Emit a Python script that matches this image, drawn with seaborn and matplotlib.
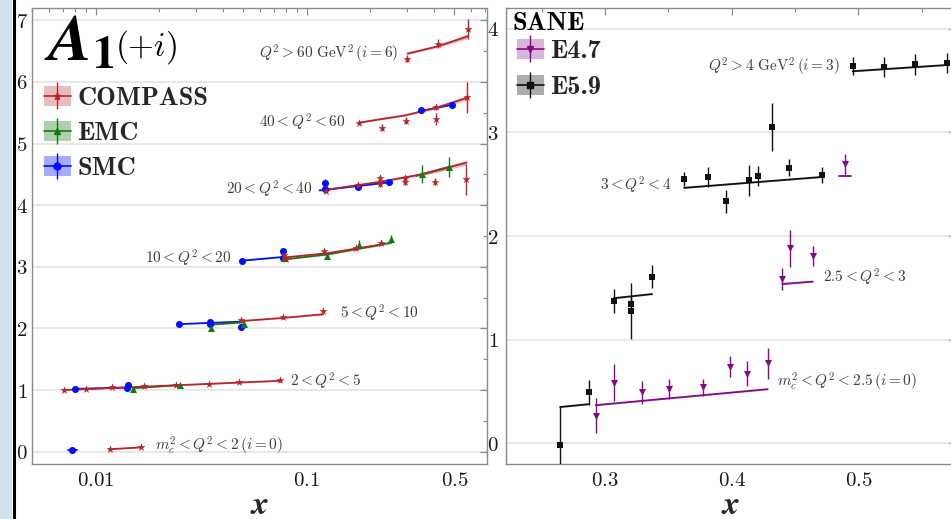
import os
import numpy as np
import pandas as pd
import matplotlib
matplotlib.use("Agg")
import matplotlib.pyplot as plt
from matplotlib.font_manager import FontProperties
from matplotlib.patches import Patch, Rectangle
from matplotlib.lines import Line2D
from matplotlib.ticker import (FixedLocator, LogLocator, MultipleLocator,
                               NullFormatter, FuncFormatter)
import seaborn as sns

# ---------------------------------------------------------------------------
# A1 measurements: x, A1 value, bin offset i (plotted as A1 + i), uncertainty
# ---------------------------------------------------------------------------
compass_x = [0.01165, 0.01647,
             0.00705, 0.00897, 0.0120, 0.0169, 0.0241, 0.0344, 0.0478, 0.0745,
             0.0488, 0.0772, 0.1195,
             0.0783, 0.0795, 0.1205, 0.172, 0.224,
             0.124, 0.174, 0.222, 0.222, 0.2915, 0.2915, 0.407, 0.567,
             0.177, 0.226, 0.294, 0.409, 0.409, 0.571,
             0.300, 0.419, 0.578]
compass_a1 = [0.04, 0.076,
              0.005, 0.016, 0.05, 0.07, 0.086, 0.10, 0.13, 0.156,
              0.13, 0.18, 0.29,
              0.19, 0.13, 0.25, 0.30, 0.39,
              0.235, 0.32, 0.436, 0.34, 0.446, 0.38, 0.38, 0.42,
              0.34, 0.26, 0.37, 0.40, 0.59, 0.75,
              0.38, 0.62, 0.86]
compass_bin = [0, 0, 1, 1, 1, 1, 1, 1, 1, 1, 2, 2, 2, 3, 3, 3, 3, 3,
               4, 4, 4, 4, 4, 4, 4, 4, 5, 5, 5, 5, 5, 5, 6, 6, 6]
compass_err = [0.02, 0.02,
               0.02, 0.02, 0.02, 0.02, 0.02, 0.02, 0.02, 0.02,
               0.02, 0.02, 0.03,
               0.03, 0.03, 0.03, 0.03, 0.04,
               0.03, 0.05, 0.05, 0.05, 0.05, 0.05, 0.06, 0.25,
               0.03, 0.06, 0.06, 0.10, 0.05, 0.25,
               0.06, 0.07, 0.16]

smc_x = [0.00776, 0.0080, 0.0141, 0.0143, 0.0248, 0.0347, 0.0347, 0.0488,
         0.0494, 0.0772, 0.0772, 0.1217, 0.1217, 0.174, 0.245, 0.346, 0.487]
smc_a1 = [0.03, 0.02, 0.03, 0.08, 0.07, 0.11, 0.07, 0.03,
          0.095, 0.25, 0.15, 0.355, 0.26, 0.30, 0.37, 0.54, 0.62]
smc_bin = [0, 1, 1, 1, 2, 2, 2, 2, 3, 3, 3, 4, 4, 4, 4, 5, 5]
smc_err = [0.01, 0.01, 0.01, 0.01, 0.01, 0.01, 0.01, 0.01,
           0.01, 0.04, 0.01, 0.07, 0.02, 0.02, 0.02, 0.04, 0.04]

emc_x = [0.01503, 0.025, 0.0351, 0.0503, 0.0781, 0.1254, 0.176, 0.250, 0.35, 0.472]
emc_a1 = [0.016, 0.09, 0.01, 0.07, 0.14, 0.17, 0.36, 0.45, 0.505, 0.62]
emc_bin = [1, 1, 2, 2, 3, 3, 3, 3, 4, 4]
emc_err = [0.02, 0.02, 0.02, 0.03, 0.02, 0.03, 0.07, 0.07, 0.15, 0.17]

sane59_x = [0.2645, 0.2874,
            0.3069, 0.3208, 0.3208, 0.3371,
            0.3624, 0.381, 0.3955, 0.4139, 0.4208, 0.4316, 0.4455, 0.4715,
            0.4955, 0.520, 0.5447, 0.5697]
sane59_a1 = [-0.02, 0.49,
             0.373, 0.34, 0.276, 0.607,
             0.548, 0.57, 0.336, 0.539, 0.58, 1.05, 0.66, 0.59,
             0.64, 0.63, 0.656, 0.67]
sane59_bin = [0, 0, 1, 1, 1, 1, 2, 2, 2, 2, 2, 2, 2, 2, 3, 3, 3, 3]
sane59_err = [0.37, 0.12,
              0.12, 0.08, 0.27, 0.11,
              0.07, 0.10, 0.11, 0.15, 0.10, 0.23, 0.08, 0.08,
              0.09, 0.10, 0.10, 0.10]

sane47_x = [0.2927, 0.3069, 0.329, 0.3507, 0.3776, 0.3987, 0.4123, 0.4284,
            0.44, 0.446, 0.4639, 0.4894]
sane47_a1 = [0.265, 0.586, 0.49, 0.525, 0.54, 0.74, 0.67, 0.77,
             0.585, 0.88, 0.806, 0.69]
sane47_bin = [0, 0, 0, 0, 0, 0, 0, 0, 1, 1, 1, 2]
sane47_err = [0.17, 0.18, 0.11, 0.10, 0.08, 0.10, 0.12, 0.15,
              0.11, 0.18, 0.10, 0.10]

# fitted curves per bin with their uncertainty bands
compass_fit_x = [0.01165, 0.01647, 0.00705, 0.025, 0.0745, 0.0488, 0.077, 0.1195,
                 0.0772, 0.125, 0.224, 0.124, 0.222, 0.35, 0.571,
                 0.177, 0.294, 0.409, 0.571, 0.300, 0.419, 0.578]
compass_fit_a1 = [0.04, 0.07, 0.0, 0.08, 0.15, 0.12, 0.17, 0.23,
                  0.15, 0.22, 0.36, 0.25, 0.38, 0.50, 0.69,
                  0.34, 0.46, 0.58, 0.74, 0.46, 0.58, 0.74]
compass_fit_bin = [0, 0, 1, 1, 1, 2, 2, 2, 3, 3, 3, 4, 4, 4, 4, 5, 5, 5, 5, 6, 6, 6]
compass_fit_band = [0.004, 0.004, 0.004, 0.005, 0.008, 0.005, 0.006, 0.01,
                    0.006, 0.008, 0.015, 0.008, 0.012, 0.02, 0.04,
                    0.01, 0.015, 0.02, 0.04, 0.015, 0.02, 0.04]

smc_fit_x = [0.0074, 0.0082, 0.0080, 0.0141, 0.0248, 0.0488,
             0.0494, 0.0772, 0.115, 0.245, 0.346, 0.487]
smc_fit_a1 = [0.03, 0.03, 0.02, 0.04, 0.07, 0.11, 0.10, 0.16, 0.24, 0.37, 0.53, 0.63]
smc_fit_bin = [0, 0, 1, 1, 2, 2, 3, 3, 4, 4, 5, 5]
smc_fit_band = [0.006] * 12

emc_fit_x = [0.01503, 0.025, 0.0351, 0.0503, 0.0781, 0.125, 0.25, 0.33, 0.472]
emc_fit_a1 = [0.03, 0.08, 0.06, 0.10, 0.12, 0.20, 0.39, 0.48, 0.62]
emc_fit_bin = [1, 1, 2, 2, 3, 3, 3, 4, 4]
emc_fit_band = [0.005, 0.006, 0.006, 0.008, 0.008, 0.01, 0.02, 0.02, 0.03]

sane59_fit_x = [0.2645, 0.2874, 0.3069, 0.3371, 0.3624, 0.4715, 0.4955, 0.5697]
sane59_fit_a1 = [0.35, 0.378, 0.40, 0.44, 0.465, 0.57, 0.59, 0.65]
sane59_fit_bin = [0, 0, 1, 1, 2, 2, 3, 3]
sane59_fit_band = [0.006] * 8

sane47_fit_x = [0.2927, 0.4284, 0.44, 0.4639, 0.485, 0.494]
sane47_fit_a1 = [0.368, 0.522, 0.537, 0.56, 0.577, 0.577]
sane47_fit_bin = [0, 0, 1, 1, 2, 2]
sane47_fit_band = [0.006] * 6

C_COMPASS = "#b8242a"
C_EMC = "#137a13"
C_SMC = "#0010ff"
C_E47 = "#860a86"
C_E59 = "#111111"
TXT = "#3c3c3c"

sns.set_theme(style="white")
plt.rcParams.update({
    "mathtext.fontset": "cm",
    "font.family": ["DejaVu Serif"],
    "axes.unicode_minus": False,
})

# Computer Modern bold, shipped with matplotlib
CMB = FontProperties(fname=os.path.join(matplotlib.get_data_path(),
                                        "fonts", "ttf", "cmb10.ttf"), size=19)


def draw_fit(ax, x, a1, b, band, color, alpha):
    df = pd.DataFrame({"x": x, "y": np.add(a1, b), "bin": b, "band": band})
    sns.lineplot(data=df, x="x", y="y", units="bin", estimator=None, sort=False,
                 color=color, lw=1.3, ax=ax, legend=False, zorder=3)
    for _, g in df.groupby("bin"):
        ax.fill_between(g["x"], g["y"] - g["band"], g["y"] + g["band"],
                        color=color, alpha=alpha, lw=0, zorder=2)


def draw_points(ax, x, a1, b, err, color, marker, size):
    df = pd.DataFrame({"x": x, "y": np.add(a1, b), "err": err})
    ax.errorbar(df["x"], df["y"], yerr=df["err"], fmt="none", ecolor=color,
                elinewidth=1.0, capsize=0, zorder=4)
    sns.scatterplot(data=df, x="x", y="y", marker=marker, s=size, color=color,
                    linewidth=0, ax=ax, legend=False, zorder=5)


def legend_handle(ax, color, marker, alpha):
    patch = Patch(facecolor=color, alpha=alpha, edgecolor="none")
    eb = ax.errorbar([np.nan], [np.nan], yerr=[1.0], fmt="-", marker=marker,
                     color=color, ms=5, lw=1.2, elinewidth=1.0)
    return (patch, eb)


def style_axes(ax):
    for s in ax.spines.values():
        s.set_color("#8a8a8a")
        s.set_linewidth(1.0)
    ax.tick_params(which="both", direction="in", top=True, right=True,
                   color="#8a8a8a", labelcolor="#1a1a1a", labelsize=15)
    ax.tick_params(which="major", length=5, width=0.9, pad=5)
    ax.tick_params(which="minor", length=3, width=0.8)
    ax.tick_params(axis="y", which="major", pad=3)
    ax.yaxis.grid(True, which="major", color="#e6e6e6", lw=1.3)
    ax.xaxis.grid(False)
    ax.set_axisbelow(True)
    ax.yaxis.set_major_locator(MultipleLocator(1))
    ax.yaxis.set_minor_locator(MultipleLocator(0.5))
    ax.yaxis.set_major_formatter(FuncFormatter(lambda v, p: f"${v:g}$"))
    ax.set_ylabel("")


fig = plt.figure(figsize=(9.51, 5.19), dpi=100)
fig.patch.set_facecolor("white")
fig.add_artist(Rectangle((0, 0), 12 / 951, 1, transform=fig.transFigure,
                         facecolor="#d2e1eb", edgecolor="none", zorder=0))
fig.add_artist(Line2D([13.6 / 951] * 2, [0, 1], transform=fig.transFigure,
                      color="black", lw=2.2))

ax1 = fig.add_axes([32 / 951, 55 / 519, 454.5 / 951, 456 / 519])
ax2 = fig.add_axes([505.7 / 951, 55 / 519, 450.3 / 951, 456 / 519])

# ---------------- left panel: COMPASS / EMC / SMC ----------------
ax1.set_xscale("log")
draw_fit(ax1, smc_fit_x, smc_fit_a1, smc_fit_bin, smc_fit_band, C_SMC, 0.3)
draw_fit(ax1, emc_fit_x, emc_fit_a1, emc_fit_bin, emc_fit_band, C_EMC, 0.3)
draw_fit(ax1, compass_fit_x, compass_fit_a1, compass_fit_bin, compass_fit_band, C_COMPASS, 0.3)
draw_points(ax1, smc_x, smc_a1, smc_bin, smc_err, C_SMC, "o", 26)
draw_points(ax1, emc_x, emc_a1, emc_bin, emc_err, C_EMC, "^", 26)
draw_points(ax1, compass_x, compass_a1, compass_bin, compass_err, C_COMPASS, "*", 38)

ax1.set_xlim(0.005, 0.71)
ax1.set_ylim(-0.2, 7.2)
style_axes(ax1)
ax1.xaxis.set_major_locator(FixedLocator([0.01, 0.1, 0.5]))
ax1.xaxis.set_major_formatter(FuncFormatter(lambda v, p: f"${v:g}$"))
ax1.xaxis.set_minor_locator(LogLocator(base=10, subs=np.arange(2, 10)))
ax1.xaxis.set_minor_formatter(NullFormatter())
ax1.set_xlabel(r"$\mathbfit{x}$", fontsize=24, math_fontfamily="stix", labelpad=-1)

lab = dict(fontsize=11, color=TXT, va="center")
ax1.text(0.2708, 6.46, r"$Q^2 > 60\ \mathrm{GeV}^2\,(i=6)$", ha="right", **lab)
ax1.text(0.153, 5.35, r"$40 < Q^2 < 60$", ha="right", **lab)
ax1.text(0.1071, 4.25, r"$20 < Q^2 < 40$", ha="right", **lab)
ax1.text(0.0440, 3.14, r"$10 < Q^2 < 20$", ha="right", **lab)
ax1.text(0.1445, 2.25, r"$5 < Q^2 < 10$", ha="left", **lab)
ax1.text(0.0830, 1.14, r"$2 < Q^2 < 5$", ha="left", **lab)
ax1.text(0.01904, 0.086, r"$m_c^2 < Q^2 < 2\,(i=0)$", ha="left", **lab)

fig.text(44 / 951, 1 - 60 / 519, r"$\mathbfit{A}_{\mathbf{1}}$", fontsize=47,
         math_fontfamily="stix", va="baseline", ha="left", color="black")
fig.text(115 / 951, 1 - 56 / 519, r"$(+i)$", fontsize=24, va="baseline",
         ha="left", color="black")

h_left = [legend_handle(ax1, C_COMPASS, "*", 0.3),
          legend_handle(ax1, C_EMC, "^", 0.35),
          legend_handle(ax1, C_SMC, "o", 0.35)]
ax1.legend(h_left, ["COMPASS", "EMC", "SMC"], prop=CMB,
           loc="upper left", bbox_to_anchor=(44 / 951, 1 - 86 / 519),
           bbox_transform=fig.transFigure, frameon=False,
           handlelength=1.02, handleheight=0.78, handletextpad=0.25,
           labelspacing=0.42, borderpad=0, borderaxespad=0, numpoints=1)

# ---------------- right panel: SANE ----------------
draw_fit(ax2, sane59_fit_x, sane59_fit_a1, sane59_fit_bin, sane59_fit_band, C_E59, 0.3)
draw_fit(ax2, sane47_fit_x, sane47_fit_a1, sane47_fit_bin, sane47_fit_band, C_E47, 0.3)
draw_points(ax2, sane59_x, sane59_a1, sane59_bin, sane59_err, C_E59, "s", 18)
draw_points(ax2, sane47_x, sane47_a1, sane47_bin, sane47_err, C_E47, "v", 26)

ax2.set_xlim(0.2216, 0.577)
ax2.set_ylim(-0.2, 4.2)
style_axes(ax2)
ax2.xaxis.set_major_locator(FixedLocator([0.3, 0.4, 0.5]))
ax2.xaxis.set_major_formatter(FuncFormatter(lambda v, p: f"${v:g}$"))
ax2.xaxis.set_minor_locator(MultipleLocator(0.05))
ax2.tick_params(axis="y", which="major", pad=5)
ax2.set_xlabel(r"$\mathbfit{x}$", fontsize=24, math_fontfamily="stix", labelpad=-1)

ax2.text(0.4855, 3.63, r"$Q^2 > 4\ \mathrm{GeV}^2\,(i=3)$", ha="right", **lab)
ax2.text(0.3526, 2.49, r"$3 < Q^2 < 4$", ha="right", **lab)
ax2.text(0.4718, 1.60, r"$2.5 < Q^2 < 3$", ha="left", **lab)
ax2.text(0.4355, 0.59, r"$m_c^2 < Q^2 < 2.5\,(i=0)$", ha="left", **lab)

fig.text(513 / 951, 1 - 30 / 519, "SANE", fontproperties=CMB,
         va="baseline", ha="left", color="black")
h_right = [legend_handle(ax2, C_E47, "v", 0.3),
           legend_handle(ax2, C_E59, "s", 0.35)]
ax2.legend(h_right, ["E4.7", "E5.9"], prop=CMB,
           loc="upper left", bbox_to_anchor=(517 / 951, 1 - 39 / 519),
           bbox_transform=fig.transFigure, frameon=False,
           handlelength=1.02, handleheight=0.78, handletextpad=0.25,
           labelspacing=0.46, borderpad=0, borderaxespad=0, numpoints=1)

fig.savefig("out.png", dpi=100, facecolor="white")
